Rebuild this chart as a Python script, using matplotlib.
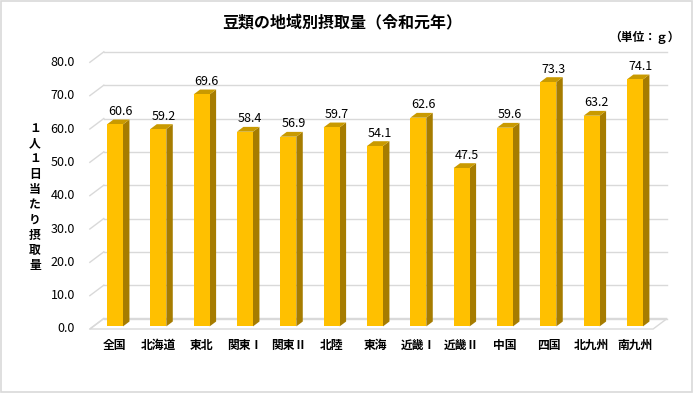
import matplotlib
matplotlib.use("Agg")
import matplotlib.pyplot as plt
from matplotlib.patches import Polygon, Rectangle

plt.rcParams["font.family"] = ["Noto Sans CJK JP", "DejaVu Sans"]

# data
regions = ["全国", "北海道", "東北", "関東Ⅰ", "関東Ⅱ", "北陸", "東海",
           "近畿Ⅰ", "近畿Ⅱ", "中国", "四国", "北九州", "南九州"]
values = [60.6, 59.2, 69.6, 58.4, 56.9, 59.7, 54.1, 62.6, 47.5, 59.6, 73.3, 63.2, 74.1]
yticks = [0, 10, 20, 30, 40, 50, 60, 70, 80]

title = "豆類の地域別摂取量（令和元年）"
unit = "（単位：ｇ）"
ylabel = "１人１日当たり摂取量"

FRONT = "#FFC000"
SIDE = "#A67C00"
TOP = "#C99A00"
GRID = "#D9D9D9"

# pseudo-3D depth offsets (data units): full floor depth
DX, DY = 0.323, 3.15
D0, D1 = 0.25, 0.71        # bar front / back depth fraction
W = 0.37                   # bar width
X0, X1 = -0.5, len(regions) - 0.5


def P(x, y, d):
    return (x + d * DX, y + d * DY)


fig = plt.figure(figsize=(6.93, 3.93), dpi=100)
ax = fig.add_axes([0, 0, 1, 1])
ax.set_xlim(-2.573, 13.42)
ax.set_ylim(-19.2, 98.7)
ax.axis("off")

# back wall gridlines + left wall diagonals
for v in yticks:
    ax.plot(*zip(P(X0, v, 1), P(X1, v, 1)), color=GRID, lw=1, zorder=1)
    ax.plot(*zip(P(X0, v, 0), P(X0, v, 1)), color=GRID, lw=1, zorder=1)
    ax.text(X0 - 0.34, v, f"{v:.1f}", ha="right", va="center", fontsize=9)

# floor
ax.add_patch(Polygon([P(X0, 0, 0), P(X1, 0, 0), P(X1, 0, 1), P(X0, 0, 1)],
                     closed=True, facecolor="none", edgecolor=GRID, lw=1, zorder=1))

for i, (name, v) in enumerate(zip(regions, values)):
    l, r = i - W / 2, i + W / 2
    ax.add_patch(Polygon([P(r, 0, D0), P(r, 0, D1), P(r, v, D1), P(r, v, D0)],
                         closed=True, facecolor=SIDE, edgecolor="none", zorder=3))
    ax.add_patch(Polygon([P(l, v, D0), P(r, v, D0), P(r, v, D1), P(l, v, D1)],
                         closed=True, facecolor=TOP, edgecolor="none", zorder=3))
    ax.add_patch(Polygon([P(l, 0, D0), P(r, 0, D0), P(r, v, D0), P(l, v, D0)],
                         closed=True, facecolor=FRONT, edgecolor="none", zorder=4))
    tx, ty = P(i, v, D1)
    ax.text(tx - 0.03, ty + 0.5, f"{v:.1f}", ha="center", va="bottom", fontsize=9, zorder=5)
    cx, _ = P(i, 0, D0)
    ax.text(cx, -4.8, name, ha="center", va="center", fontsize=8.5, fontweight="bold")

fig.text(342 / 693, 1 - 22 / 393, title, ha="center", va="center",
         fontsize=11.5, fontweight="bold")
fig.text(680 / 693, 1 - 37 / 393, unit, ha="right", va="center",
         fontsize=8.5, fontweight="bold")
fig.text(35 / 693, 1 - 197 / 393, "\n".join(ylabel), ha="center", va="center",
         fontsize=8.5, fontweight="bold", linespacing=1.22)

fig.patches.append(Rectangle((0.001, 0.002), 0.997, 0.995, transform=fig.transFigure,
                             facecolor="none", edgecolor=GRID, lw=1.2))

fig.savefig("out.png", dpi=100)
